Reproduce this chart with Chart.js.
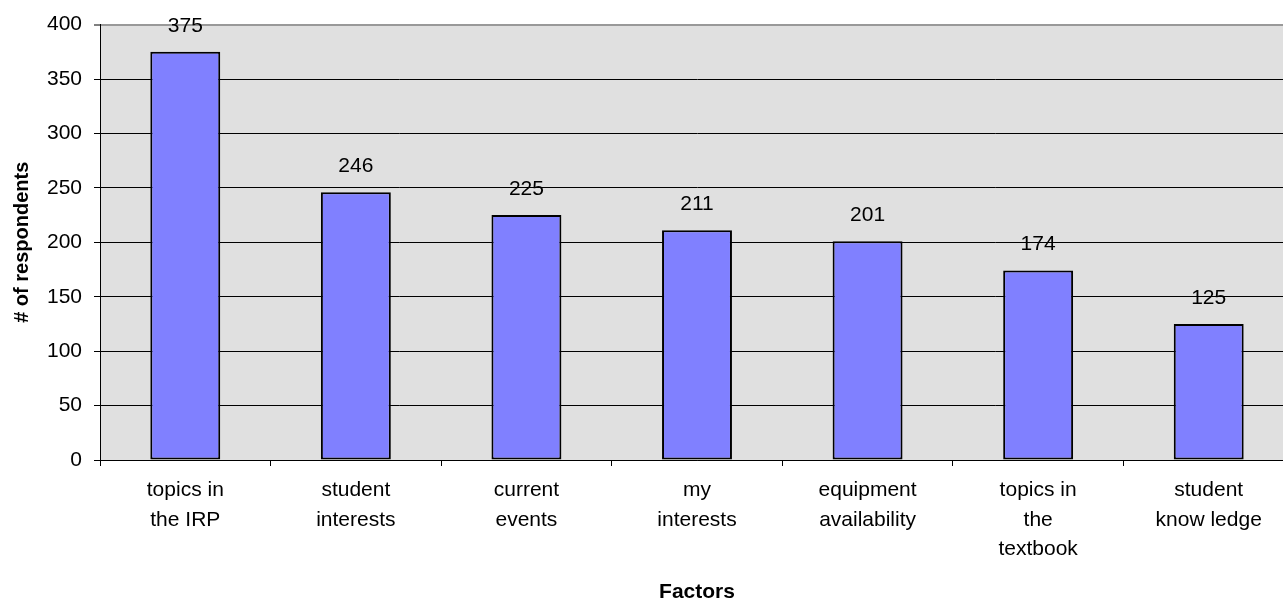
<!DOCTYPE html>
<html>
<head>
<meta charset="utf-8">
<script src="https://cdn.jsdelivr.net/npm/chart.js@4.4.1/dist/chart.umd.min.js"></script>
<style>
  html, body { margin: 0; padding: 0; background: #fff; overflow: hidden; }
  #wrap { width: 1300px; height: 603px; }
</style>
</head>
<body>
<div id="wrap"><canvas id="c" width="1300" height="603"></canvas></div>
<script>
const categories = [
  ["topics in", "the IRP"],
  ["student", "interests"],
  ["current", "events"],
  ["my", "interests"],
  ["equipment", "availability"],
  ["topics in", "the", "textbook"],
  ["student", "know ledge"]
];
const respondents = [375, 246, 225, 211, 201, 174, 125];
const yTicks = [0, 50, 100, 150, 200, 250, 300, 350, 400];
const xTitle = "Factors";
const yTitle = "# of respondents";

const FONT = "'Liberation Sans', Arial, sans-serif";

const plotBg = {
  id: 'plotBg',
  beforeDraw(chart) {
    const {ctx, chartArea: a} = chart;
    ctx.save();
    ctx.fillStyle = '#e0e0e0';
    ctx.fillRect(a.left, a.top, a.right - a.left, a.bottom - a.top);
    ctx.restore();
  }
};

const valueLabels = {
  id: 'valueLabels',
  afterDatasetsDraw(chart) {
    const {ctx} = chart;
    const meta = chart.getDatasetMeta(0);
    ctx.save();
    ctx.font = '21px ' + FONT;
    ctx.fillStyle = '#000';
    ctx.textAlign = 'center';
    ctx.textBaseline = 'middle';
    meta.data.forEach((bar, i) => {
      ctx.fillText(String(respondents[i]), bar.x, bar.y - 26);
    });
    ctx.restore();
  }
};

new Chart(document.getElementById('c'), {
  type: 'bar',
  data: {
    labels: categories,
    datasets: [{
      data: respondents,
      backgroundColor: '#8080ff',
      borderColor: '#000',
      borderWidth: 2,
      borderSkipped: false,
      categoryPercentage: 1,
      barPercentage: 0.41
    }]
  },
  options: {
    responsive: false,
    animation: false,
    devicePixelRatio: 1,
    layout: { padding: { top: 24, right: 6, left: 0, bottom: 0 } },
    plugins: {
      legend: { display: false },
      tooltip: { enabled: false }
    },
    scales: {
      x: {
        offset: true,
        grid: {
          offset: true,
          drawOnChartArea: false,
          drawTicks: true,
          tickLength: 6,
          color: '#000',
          lineWidth: 1
        },
        border: { display: true, color: '#000', width: 1 },
        ticks: {
          color: '#000',
          padding: 10,
          maxRotation: 0,
          autoSkip: false,
          font: { family: FONT, size: 21, lineHeight: 1.395 }
        },
        title: {
          display: true,
          text: xTitle,
          color: '#000',
          padding: { top: 0, bottom: 0 },
          font: { family: FONT, size: 21, weight: 'bold', lineHeight: 1 }
        },
        afterFit(scale) { scale.height = 143; }
      },
      y: {
        min: 0,
        max: 400,
        afterBuildTicks(scale) { scale.ticks = yTicks.map(v => ({ value: v })); },
        grid: {
          color: (ctx) => ctx.tick && ctx.tick.value === 400 ? '#999' : '#000',
          lineWidth: (ctx) => ctx.tick && ctx.tick.value === 400 ? 2 : 1,
          tickColor: '#000',
          tickWidth: 1,
          tickLength: 6,
          drawTicks: true
        },
        border: { display: true, color: '#000', width: 1 },
        ticks: {
          color: '#000',
          padding: 12,
          font: { family: FONT, size: 21 }
        },
        title: {
          display: true,
          text: yTitle,
          color: '#000',
          padding: { top: 10, bottom: 0 },
          font: { family: FONT, size: 20, weight: 'bold', lineHeight: 1.2 }
        },
        afterFit(scale) { scale.width = 100; }
      }
    }
  },
  plugins: [plotBg, valueLabels]
});
</script>
</body>
</html>
